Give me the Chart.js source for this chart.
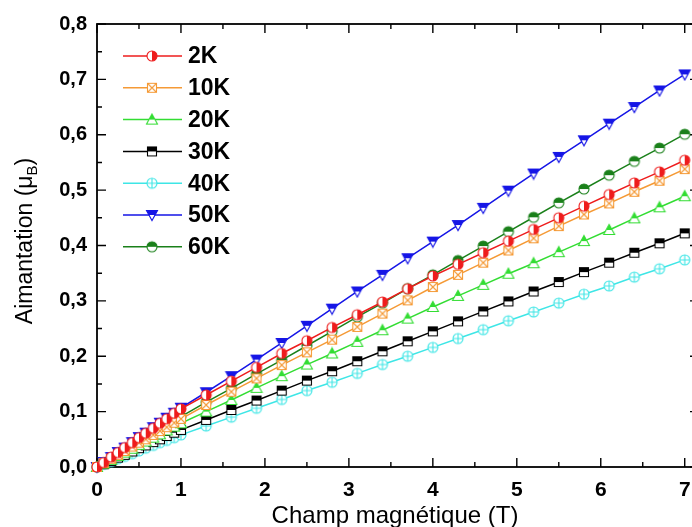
<!DOCTYPE html>
<html>
<head>
<meta charset="utf-8">
<script src="https://cdn.jsdelivr.net/npm/chart.js@4"></script>
<style>
  html, body { margin: 0; padding: 0; background: #fff; overflow: hidden; }
  #wrap { width: 720px; height: 527px; }
</style>
</head>
<body>
<div id="wrap"><canvas id="magChart" width="720" height="527"></canvas></div>
<script>
// Champ magnétique (T)
const field = [0, 0.08, 0.17, 0.25, 0.33, 0.42, 0.5, 0.58, 0.67, 0.75, 0.83, 0.92,
    1.0, 1.3, 1.6, 1.9, 2.2, 2.5, 2.8, 3.1, 3.4, 3.7, 4.0, 4.3, 4.6, 4.9, 5.2, 5.5, 5.8, 6.1, 6.4, 6.7, 7.0];

// Aimantation (muB) per temperature
const m2K = [0, 0.008, 0.018, 0.026, 0.035, 0.044, 0.053, 0.061, 0.070, 0.079, 0.087, 0.097,
    0.105, 0.130, 0.155, 0.180, 0.205, 0.228, 0.252, 0.275, 0.298, 0.322, 0.345, 0.366, 0.387, 0.408, 0.429, 0.450, 0.471, 0.492, 0.513, 0.533, 0.554];
const m10K = [0, 0.007, 0.015, 0.022, 0.029, 0.037, 0.044, 0.050, 0.058, 0.065, 0.072, 0.080,
    0.087, 0.112, 0.136, 0.160, 0.184, 0.207, 0.230, 0.253, 0.277, 0.301, 0.325, 0.347, 0.369, 0.391, 0.413, 0.435, 0.456, 0.476, 0.497, 0.517, 0.538];
const m20K = [0, 0.006, 0.013, 0.020, 0.026, 0.033, 0.040, 0.046, 0.053, 0.059, 0.066, 0.073,
    0.079, 0.100, 0.121, 0.143, 0.164, 0.185, 0.205, 0.226, 0.247, 0.268, 0.289, 0.309, 0.329, 0.349, 0.368, 0.388, 0.408, 0.428, 0.449, 0.469, 0.489];
const m30K = [0, 0.005, 0.011, 0.017, 0.022, 0.028, 0.034, 0.039, 0.045, 0.050, 0.056, 0.062,
    0.067, 0.085, 0.103, 0.120, 0.138, 0.156, 0.173, 0.191, 0.209, 0.227, 0.245, 0.263, 0.281, 0.299, 0.317, 0.334, 0.352, 0.369, 0.387, 0.404, 0.422];
const m40K = [0, 0.005, 0.010, 0.015, 0.019, 0.024, 0.029, 0.034, 0.039, 0.044, 0.048, 0.053,
    0.058, 0.074, 0.090, 0.106, 0.122, 0.138, 0.153, 0.169, 0.185, 0.200, 0.216, 0.232, 0.248, 0.264, 0.280, 0.296, 0.312, 0.327, 0.343, 0.358, 0.374];
const m50K = [0, 0.009, 0.018, 0.027, 0.035, 0.045, 0.054, 0.062, 0.072, 0.080, 0.089, 0.098,
    0.107, 0.135, 0.164, 0.194, 0.224, 0.255, 0.286, 0.317, 0.347, 0.377, 0.407, 0.437, 0.468, 0.499, 0.530, 0.560, 0.590, 0.620, 0.650, 0.680, 0.709];
const m60K = [0, 0.007, 0.015, 0.023, 0.030, 0.038, 0.046, 0.053, 0.061, 0.068, 0.076, 0.084,
    0.091, 0.117, 0.142, 0.168, 0.193, 0.219, 0.245, 0.271, 0.296, 0.322, 0.347, 0.373, 0.399, 0.425, 0.451, 0.477, 0.502, 0.527, 0.552, 0.576, 0.601];

const seriesLabels = ['2K', '10K', '20K', '30K', '40K', '50K', '60K'];
const seriesValues = [m2K, m10K, m20K, m30K, m40K, m50K, m60K];
const seriesColors = ['#ee1c1c', '#f59a36', '#33dd33', '#000000', '#3ee6e6', '#1515e6', '#1a801a'];
const seriesMarkers = ['circleRight', 'squareX', 'triUpTop', 'squareTop', 'circlePlus', 'triDownTop', 'circleTop'];

const xTickValues = [0, 1, 2, 3, 4, 5, 6, 7];
const yTickValues = [0, 0.1, 0.2, 0.3, 0.4, 0.5, 0.6, 0.7, 0.8];

const FONT = '"Liberation Sans", Arial, sans-serif';

// Origin-like half filled markers drawn on small canvases
function makeMarker(kind, color) {
    const c = document.createElement('canvas');
    c.width = 14;
    c.height = 14;
    const g = c.getContext('2d');
    const m = 7, r = 5;
    g.lineWidth = 1.1;
    g.strokeStyle = color;
    g.fillStyle = color;

    function shape() {
        g.beginPath();
        if (kind.startsWith('circle')) {
            g.arc(m, m, r, 0, Math.PI * 2);
        } else if (kind.startsWith('square')) {
            g.rect(m - r + 0.5, m - r + 0.5, r * 2 - 1, r * 2 - 1);
        } else if (kind === 'triUpTop') {
            g.moveTo(m, m - r - 0.5);
            g.lineTo(m + r + 0.5, m + r - 0.5);
            g.lineTo(m - r - 0.5, m + r - 0.5);
            g.closePath();
        } else {
            g.moveTo(m - r - 0.5, m - r + 0.5);
            g.lineTo(m + r + 0.5, m - r + 0.5);
            g.lineTo(m, m + r + 0.5);
            g.closePath();
        }
    }

    shape();
    g.save();
    g.fillStyle = '#fff';
    g.fill();
    g.clip();
    g.fillStyle = color;
    if (kind === 'circleRight') {
        g.fillRect(m, 0, 14, 14);
    } else if (kind.endsWith('Top')) {
        g.fillRect(0, 0, 14, m);
    }
    g.restore();
    shape();
    g.stroke();

    g.beginPath();
    if (kind === 'squareX') {
        g.moveTo(m - r + 0.5, m - r + 0.5); g.lineTo(m + r - 0.5, m + r - 0.5);
        g.moveTo(m + r - 0.5, m - r + 0.5); g.lineTo(m - r + 0.5, m + r - 0.5);
    } else if (kind === 'circlePlus') {
        g.moveTo(m - r, m); g.lineTo(m + r, m);
        g.moveTo(m, m - r); g.lineTo(m, m + r);
    }
    g.stroke();
    return c;
}

const datasets = seriesLabels.map((label, i) => ({
    label: label,
    data: field.map((x, j) => ({ x: x, y: seriesValues[i][j] })),
    borderColor: seriesColors[i],
    backgroundColor: seriesColors[i],
    borderWidth: 1.5,
    pointStyle: makeMarker(seriesMarkers[i], seriesColors[i]),
    pointRadius: 5,
    tension: 0,
    clip: false
}));

// frame with inward ticks on all four sides
const frameTicks = {
    id: 'frameTicks',
    beforeDatasetsDraw(chart) {
        const { ctx, chartArea: a } = chart;
        const xs = chart.scales.x, ys = chart.scales.y;
        ctx.save();
        ctx.strokeStyle = '#000';
        ctx.lineWidth = 1.8;
        ctx.strokeRect(a.left, a.top, a.right - a.left, a.bottom - a.top);
        ctx.lineWidth = 1.4;
        ctx.beginPath();
        xTickValues.forEach(v => {
            const px = xs.getPixelForValue(v);
            ctx.moveTo(px, a.bottom); ctx.lineTo(px, a.bottom - 9);
            ctx.moveTo(px, a.top); ctx.lineTo(px, a.top + 9);
            const mid = v + 0.5;
            if (mid < xs.max) {
                const pm = xs.getPixelForValue(mid);
                ctx.moveTo(pm, a.bottom); ctx.lineTo(pm, a.bottom - 5);
                ctx.moveTo(pm, a.top); ctx.lineTo(pm, a.top + 5);
            }
        });
        yTickValues.forEach((v, i) => {
            const py = ys.getPixelForValue(v);
            ctx.moveTo(a.left, py); ctx.lineTo(a.left + 9, py);
            ctx.moveTo(a.right, py); ctx.lineTo(a.right - 9, py);
            if (i < yTickValues.length - 1) {
                const pm = ys.getPixelForValue((v + yTickValues[i + 1]) / 2);
                ctx.moveTo(a.left, pm); ctx.lineTo(a.left + 5, pm);
                ctx.moveTo(a.right, pm); ctx.lineTo(a.right - 5, pm);
            }
        });
        ctx.stroke();
        ctx.restore();
    }
};

// legend and axis titles
const decorations = {
    id: 'decorations',
    afterDraw(chart) {
        const ctx = chart.ctx;
        ctx.save();

        // legend, top left inside the frame
        chart.data.datasets.forEach((ds, i) => {
            const y = 56 + i * 31.8;
            ctx.strokeStyle = ds.borderColor;
            ctx.lineWidth = 1.5;
            ctx.beginPath();
            ctx.moveTo(123, y);
            ctx.lineTo(182, y);
            ctx.stroke();
            ctx.drawImage(ds.pointStyle, 152 - 7, y - 7);
            ctx.fillStyle = '#000';
            ctx.font = 'bold 23px ' + FONT;
            ctx.textAlign = 'left';
            ctx.textBaseline = 'middle';
            ctx.fillText(ds.label, 188, y + 1);
        });

        // x title
        ctx.fillStyle = '#000';
        ctx.font = '24px ' + FONT;
        ctx.textAlign = 'center';
        ctx.textBaseline = 'alphabetic';
        ctx.fillText('Champ magnétique (T)', 395, 523);

        // y title with subscript
        const main1 = 'Aimantation (\u03bc', sub = 'B', main2 = ')';
        ctx.font = '23px ' + FONT;
        const w1 = ctx.measureText(main1).width;
        const w2 = ctx.measureText(main2).width;
        ctx.font = '15px ' + FONT;
        const ws = ctx.measureText(sub).width;
        const total = w1 + ws + w2;
        ctx.translate(32, 241);
        ctx.rotate(-Math.PI / 2);
        ctx.textAlign = 'left';
        const x0 = -total / 2;
        ctx.font = '23px ' + FONT;
        ctx.fillText(main1, x0, 0);
        ctx.font = '15px ' + FONT;
        ctx.fillText(sub, x0 + w1, 5);
        ctx.font = '23px ' + FONT;
        ctx.fillText(main2, x0 + w1 + ws, 0);

        ctx.restore();
    }
};

new Chart(document.getElementById('magChart'), {
    type: 'line',
    data: { datasets: datasets },
    options: {
        responsive: false,
        animation: false,
        devicePixelRatio: 1,
        layout: { padding: { top: 24, right: 21, left: 0, bottom: 0 } },
        plugins: {
            legend: { display: false },
            tooltip: { enabled: false }
        },
        scales: {
            x: {
                type: 'linear',
                min: 0,
                max: 7.17,
                grid: { display: false, drawTicks: false },
                border: { display: false },
                afterFit: s => { s.height = 60; },
                afterBuildTicks: s => { s.ticks = xTickValues.map(v => ({ value: v })); },
                ticks: {
                    padding: 11,
                    color: '#000',
                    font: { family: FONT, size: 21, weight: 'bold' },
                    callback: v => String(v)
                }
            },
            y: {
                type: 'linear',
                min: 0,
                max: 0.8,
                grid: { display: false, drawTicks: false },
                border: { display: false },
                afterFit: s => { s.width = 97; },
                afterBuildTicks: s => { s.ticks = yTickValues.map(v => ({ value: v })); },
                ticks: {
                    padding: 10,
                    color: '#000',
                    font: { family: FONT, size: 20, weight: 'bold' },
                    callback: v => v.toFixed(1).replace('.', ',')
                }
            }
        }
    },
    plugins: [frameTicks, decorations]
});
</script>
</body>
</html>
